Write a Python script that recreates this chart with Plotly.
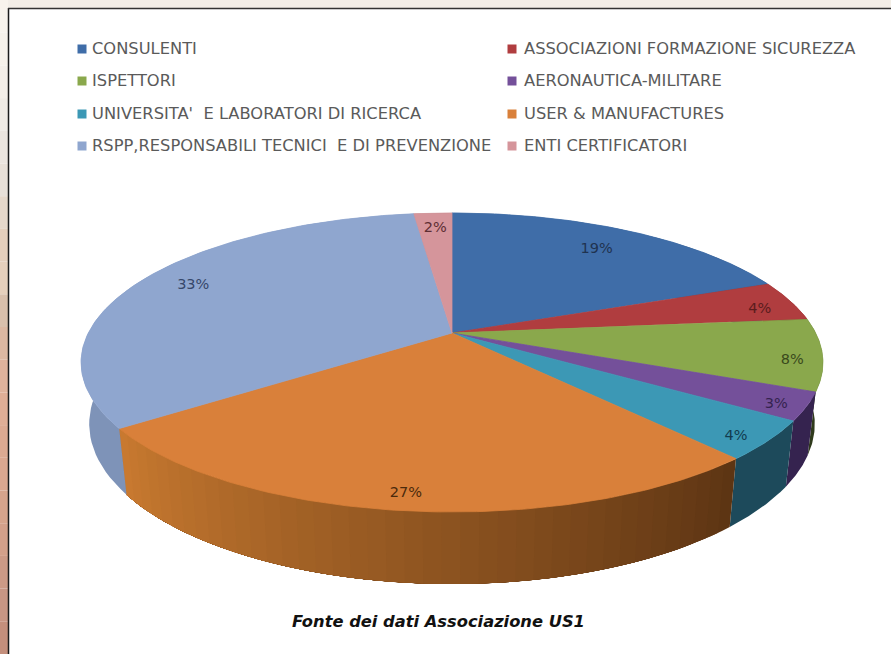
import numpy as np
import plotly.graph_objects as go

categories = ["CONSULENTI", "ASSOCIAZIONI FORMAZIONE SICUREZZA", "ISPETTORI",
              "AERONAUTICA-MILITARE", "UNIVERSITA'  E LABORATORI DI RICERCA",
              "USER & MANUFACTURES", "RSPP,RESPONSABILI TECNICI  E DI PREVENZIONE",
              "ENTI CERTIFICATORI"]
values = [19.0, 4.4, 7.8, 3.0, 4.2, 26.6, 33.0, 2.0]
top_colors = ["#3f6da8", "#b03d3f", "#8aa84c", "#74509a", "#3c98b5", "#d9803a", "#8fa6cf", "#d5959b"]
wall_colors = ["#2b4a72", "#6e2627", "#2f3a1c", "#35234f", "#1d4a5b", "#c97a30", "#7e93b8", "#8f6064"]
wall_end_colors = [None, None, None, None, None, "#5c3413", None, None]
label_colors = ["#1f3350", "#5a1c1d", "#3a4a1c", "#35234f", "#123c50", "#4a2a0c", "#36476a", "#5e2e33"]
label_radius = [0.80, 0.89, 0.92, 0.93, 0.93, 0.92, 0.84, 0.85]
label_shift_pct = [0.0, 0.8, 0.85, 0.4, 0.55, 0.1, 0.45, 0.0]
strip_colors = ["#f8f3ec", "#f6f1ea", "#f3eee8", "#efeae4", "#ebe5df", "#e8e0d8", "#e6d8ca", "#e4cfbc",
                "#e6d0bc", "#d9c0ac", "#dcb8a2", "#dfb39c", "#dfae96", "#dcaa92", "#dba890", "#d6a48c",
                "#d3a08a", "#cc9a86", "#c89684", "#c48f7c"]

W, H = 891, 654
CX, CY = 452.0, 333.0
RX, RY, K = 363.7, 143.7, 0.197
BOT_FX, BOT_FY, BOT_Y0 = 0.978, 1.07, 392.5


def project(theta, r=1.0):
    s, c = r * np.sin(theta), r * np.cos(theta)
    w = 1 + K * c
    return CX + RX * s / w, CY - RY * c / w


def bottom(x, y):
    return CX + BOT_FX * (x - CX), BOT_Y0 + BOT_FY * (y - CY)


def lerp_hex(a, b, t):
    a = [int(a[i:i + 2], 16) for i in (1, 3, 5)]
    b = [int(b[i:i + 2], 16) for i in (1, 3, 5)]
    return "#%02x%02x%02x" % tuple(int(round(p + (q - p) * t)) for p, q in zip(a, b))


def poly(x, y, color, lw=0.8):
    return go.Scatter(x=list(x), y=list(y), mode="lines", fill="toself", fillcolor=color,
                      line=dict(color=color, width=lw), hoverinfo="skip", showlegend=False)


fig = go.Figure()
cum = np.concatenate([[0], np.cumsum(values)]) / 100 * 2 * np.pi

# walls first, then top faces; gradient strips each paint to the wedge end, hiding seams
for i in range(len(values)):
    t0, t1 = cum[i], cum[i + 1]
    nstrip = 40 if wall_end_colors[i] else 1
    edges = np.linspace(t0, t1, nstrip + 1)
    for j in range(nstrip):
        t = np.linspace(edges[j], t1, 60)
        x, y = project(t)
        bx, by = bottom(x, y)
        col = wall_colors[i] if nstrip == 1 else lerp_hex(wall_end_colors[i], wall_colors[i], (j + .5) / nstrip)
        fig.add_trace(poly(np.r_[x, bx[::-1]], np.r_[y, by[::-1]], col, lw=0))

for i in range(len(values)):
    t = np.linspace(cum[i], cum[i + 1], 120)
    x, y = project(t)
    fig.add_trace(poly(np.r_[CX, x, CX], np.r_[CY, y, CY], top_colors[i]))

mid = (cum[:-1] + cum[1:]) / 2 + np.array(label_shift_pct) / 100 * 2 * np.pi
lx, ly = project(mid, np.array(label_radius))
fig.add_trace(go.Scatter(x=lx, y=ly, mode="text",
                         text=["%d%%" % round(v) for v in values],
                         textposition="middle center", hoverinfo="skip", showlegend=False,
                         textfont=dict(family="DejaVu Sans", size=14.5, color=label_colors)))

# legend in chart order
leg_x = np.array([82 if i % 2 == 0 else 512 for i in range(8)])
leg_y = np.array([49, 49, 81, 81, 114, 114, 146, 146])
fig.add_trace(go.Scatter(x=leg_x, y=leg_y, mode="markers",
                         marker=dict(symbol="square", size=9, color=top_colors),
                         hoverinfo="skip", showlegend=False))
fig.add_trace(go.Scatter(x=leg_x + np.array([10 if i % 2 == 0 else 12 for i in range(8)]), y=leg_y + 1, mode="text",
                         text=[c.replace("  ", "\u00a0\u00a0") for c in categories],
                         textposition="middle right", hoverinfo="skip", showlegend=False,
                         textfont=dict(family="DejaVu Sans", size=16.3, color="#5a5a5a")))

fig.add_annotation(x=438, y=621, text="<b><i>Fonte dei dati Associazione US1</i></b>", showarrow=False,
                   font=dict(family="DejaVu Sans", size=16.3, color="#111111"))

shapes = [dict(type="rect", x0=0, x1=W, y0=0, y1=9, fillcolor="#f3eee7", line_width=0, layer="below")]
seg = H / len(strip_colors)
for i, c in enumerate(strip_colors):
    shapes.append(dict(type="rect", x0=0, x1=8, y0=i * seg, y1=(i + 1) * seg, fillcolor=c, line_width=0, layer="below"))
shapes.append(dict(type="line", x0=8.5, x1=8.5, y0=8, y1=H, line=dict(color="#1a1a1a", width=1.5), layer="below"))
shapes.append(dict(type="line", x0=8, x1=W, y0=8.5, y1=8.5, line=dict(color="#333333", width=1.5), layer="below"))

fig.update_layout(width=W, height=H, margin=dict(l=0, r=0, t=0, b=0), autosize=False,
                  paper_bgcolor="white", plot_bgcolor="white", showlegend=False, shapes=shapes,
                  xaxis=dict(range=[0, W], visible=False, fixedrange=True),
                  yaxis=dict(range=[H, 0], visible=False, fixedrange=True))
fig.write_html("out.html", config=dict(displayModeBar=False),
               post_script="document.body.style.margin='0';document.documentElement.style.overflow='hidden';")
